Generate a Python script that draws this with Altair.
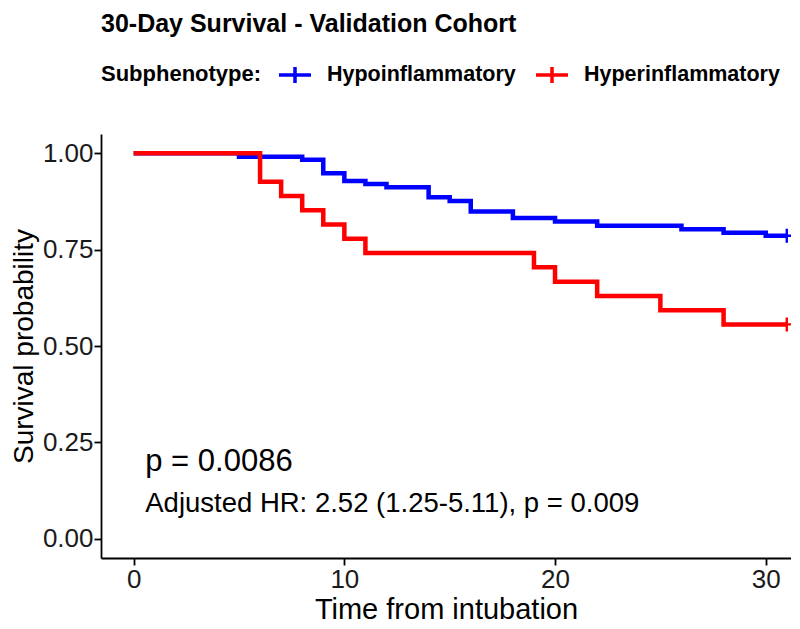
import altair as alt
import pandas as pd

# ---- data ----
groups = ["Hypoinflammatory", "Hyperinflammatory"]
colors = ["#0000FF", "#FF0000"]

blue_t = [0, 5, 8, 9, 10, 11, 12, 14, 15, 16, 18, 20, 22, 26, 28, 30, 31]
blue_s = [1.0, 0.991, 0.983, 0.948, 0.928, 0.920, 0.912, 0.886, 0.876, 0.849,
          0.832, 0.823, 0.812, 0.803, 0.794, 0.786, 0.786]
red_t = [0, 6, 7, 8, 9, 10, 11, 19, 20, 22, 25, 28, 31]
red_s = [1.0, 0.926, 0.889, 0.852, 0.815, 0.778, 0.741, 0.704, 0.667, 0.630,
         0.593, 0.556, 0.556]

censor_t = [31, 31]
censor_s = [0.786, 0.556]

ann_text = ["p = 0.0086", "Adjusted HR: 2.52 (1.25-5.11), p = 0.009"]
ann_t = [0.55, 0.55]
ann_s = [0.198, 0.089]

x_ticks = [0, 10, 20, 30]
y_ticks = [0, 0.25, 0.5, 0.75, 1.0]

FONT = "Liberation Sans"

curves = pd.DataFrame(
    {"time": blue_t + red_t,
     "surv": blue_s + red_s,
     "group": [groups[0]] * len(blue_t) + [groups[1]] * len(red_t)}
)
censor = pd.DataFrame({"time": censor_t, "surv": censor_s, "group": groups})
ann1 = pd.DataFrame({"time": ann_t[:1], "surv": ann_s[:1], "label": ann_text[:1]})
ann2 = pd.DataFrame({"time": ann_t[1:], "surv": ann_s[1:], "label": ann_text[1:]})

xs = alt.Scale(domain=[-1.55, 31.2], nice=False, zero=False)
ys = alt.Scale(domain=[-0.05, 1.05], nice=False, zero=False)

legend = alt.Legend(
    title="Subphenotype:",
    orient="none",
    legendX=0,
    legendY=-77,
    direction="horizontal",
    titleOrient="left",
    titleFontSize=22,
    titleFontWeight="bold",
    titleFont=FONT,
    titleColor="black",
    titlePadding=15,
    labelFontSize=21.5,
    labelFontWeight="bold",
    labelFont=FONT,
    labelColor="black",
    labelLimit=0,
    labelOffset=14,
    columnPadding=13,
    symbolType="M-1,0H1M0,-0.5V0.5",
    symbolSize=1024,
    symbolStrokeWidth=3.5,
)
color = alt.Color("group:N", scale=alt.Scale(domain=groups, range=colors), legend=legend)

x_enc = alt.X("time:Q", scale=xs,
              axis=alt.Axis(values=x_ticks, title="Time from intubation", format="d",
                            titleBaseline="middle", titleY=51))
y_enc = alt.Y("surv:Q", scale=ys,
              axis=alt.Axis(values=y_ticks, title="Survival probability", format=".2f",
                            titleAngle=270, titleBaseline="middle", titleAlign="center",
                            titleFontSize=28, titleX=-77, titleY=212))

base = alt.Chart(curves).encode(x=x_enc, y=y_enc, color=color)

blue_line = base.transform_filter(alt.datum.group == groups[0]).mark_line(
    interpolate="step-after", strokeWidth=4.5)
red_line = base.transform_filter(alt.datum.group == groups[1]).mark_line(
    interpolate="step-after", strokeWidth=4.5)

marks = alt.Chart(censor).mark_point(
    shape="M-1,0H1M0,-1V1", filled=False, strokeWidth=2.4, size=196, opacity=1
).encode(x=x_enc, y=y_enc, color=color)

t1 = alt.Chart(ann1).mark_text(
    align="left", baseline="middle", fontSize=31, font=FONT, color="black"
).encode(x=alt.X("time:Q", scale=xs), y=alt.Y("surv:Q", scale=ys), text="label:N")
t2 = alt.Chart(ann2).mark_text(
    align="left", baseline="middle", fontSize=27.5, font=FONT, color="black"
).encode(x=alt.X("time:Q", scale=xs), y=alt.Y("surv:Q", scale=ys), text="label:N")

chart = alt.layer(blue_line, red_line, marks, t1, t2).properties(
    width=690,
    height=424,
    autosize=alt.AutoSizeParams(type="none"),
    padding={"left": 93, "top": 126, "right": 0, "bottom": 65},
    title=alt.TitleParams(
        "30-Day Survival - Validation Cohort",
        anchor="start", frame="group", offset=20,
        fontSize=25, fontWeight="bold", font=FONT, color="black",
    ),
).configure_view(stroke=None).configure_axis(
    grid=False,
    domainColor="black",
    domainWidth=1.8,
    tickColor="black",
    tickWidth=1.8,
    tickSize=7,
    labelColor="#1a1a1a",
    labelFont=FONT,
    labelFontSize=26,
    labelPadding=1,
    titleFont=FONT,
    titleFontSize=29,
    titleFontWeight="normal",
    titleColor="black",
)

chart.save("out.html", embed_options={"renderer": "svg", "actions": False})
